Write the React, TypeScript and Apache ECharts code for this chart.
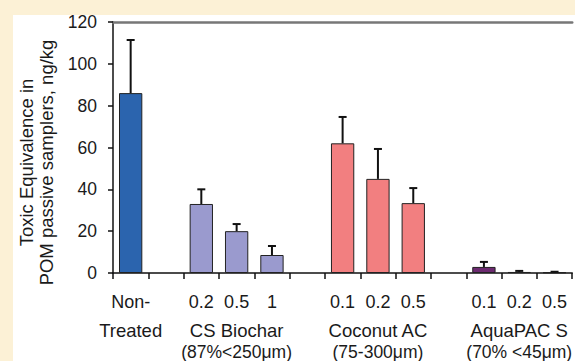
import React, { useEffect, useRef } from "react";
import * as echarts from "echarts";

// ---- data ----
const categories = ["nt", "g1", "cs02", "cs05", "cs1", "g2", "co01", "co02", "co05", "g3", "aq01", "aq02", "aq05"];
const tickLabels = ["Non-", "", "0.2", "0.5", "1", "", "0.1", "0.2", "0.5", "", "0.1", "0.2", "0.5"];
const groupNames = ["Treated", "", "", "CS Biochar", "", "", "", "Coconut AC", "", "", "", "AquaPAC S", ""];
const groupNotes = ["", "", "", "(87%<250μm)", "", "", "", "(75-300μm)", "", "", "", "(70% <45μm)", ""];
const groupOf = ["nt", "", "cs", "cs", "cs", "", "co", "co", "co", "", "aq", "aq", "aq"];
const means: (number | null)[] = [86, null, 33, 20, 8.6, null, 62, 45, 33.4, null, 2.9, 0.5, 0.3];
const errTop: (number | null)[] = [111.4, null, 40, 23.4, 12.9, null, 74.6, 59.3, 40.6, null, 5.3, 1.0, 0.6];
const yTicks = { min: 0, max: 120, interval: 20 };

// ---- styles ----
const groupColors: Record<string, string> = {
  nt: "#2b64ae",
  cs: "#9a9ace",
  co: "#f27f80",
  aq: "#6c2a70",
};
const FONT = "Liberation Sans, Arial, sans-serif";

export default function App() {
  const ref = useRef<HTMLDivElement>(null);
  useEffect(() => {
    document.body.style.margin = "0";
    const chart = echarts.init(ref.current!, null, { renderer: "svg" });
    const barData = means.map((v, i) =>
      v == null ? "-" : { value: v, itemStyle: { color: groupColors[groupOf[i]] } }
    );
    const errData: number[][] = [];
    errTop.forEach((v, i) => {
      if (v != null && means[i] != null) errData.push([i, means[i] as number, v]);
    });
    chart.setOption({
      animation: false,
      backgroundColor: "#fcf1d6",
      textStyle: { fontFamily: FONT },
      graphic: {
        elements: [
          {
            type: "rect",
            z: -100,
            left: 13,
            top: 15,
            shape: { width: 600, height: 400 },
            style: { fill: "#ffffff" },
          },
        ],
      },
      grid: { left: 113, right: -3, top: 22, bottom: 88, containLabel: false },
      xAxis: [
        {
          type: "category",
          data: categories,
          position: "bottom",
          axisLine: { lineStyle: { color: "#111", width: 1.5 } },
          axisTick: { show: true, length: 6, lineStyle: { color: "#111", width: 1.5 } },
          axisLabel: {
            interval: 0,
            margin: 14,
            color: "#1a1a1a",
            fontFamily: FONT,
            formatter: (_v: string, i: number) => {
              if (!tickLabels[i] && !groupNames[i]) return "";
              let s = `{a|${tickLabels[i]}}`;
              if (groupNames[i]) s += `\n{b|${groupNames[i]}}`;
              if (groupNotes[i]) s += `\n{c|${groupNotes[i]}}`;
              return s;
            },
            rich: {
              a: { fontSize: 18, lineHeight: 29, fontFamily: FONT, color: "#1a1a1a" },
              b: { fontSize: 18.5, lineHeight: 29, fontFamily: FONT, color: "#1a1a1a" },
              c: { fontSize: 17.5, lineHeight: 14, fontFamily: FONT, color: "#1a1a1a" },
            },
          },
        },
        {
          type: "category",
          data: categories,
          position: "top",
          axisLine: { lineStyle: { color: "#777", width: 2.5 } },
          axisTick: { show: false },
          axisLabel: { show: false },
        },
      ],
      yAxis: {
        type: "value",
        min: yTicks.min,
        max: yTicks.max,
        interval: yTicks.interval,
        name: "Toxic Equivalence in\nPOM passive samplers, ng/kg",
        nameLocation: "middle",
        nameRotate: 90,
        nameGap: 55,
        nameTextStyle: {
          fontSize: 18.5,
          lineHeight: 20,
          color: "#1a1a1a",
          fontFamily: FONT,
          padding: [0, 30, 0, 0],
        },
        splitLine: { show: false },
        axisLine: { show: true, lineStyle: { color: "#111", width: 1.5 } },
        axisTick: { show: true, length: 5, lineStyle: { color: "#111", width: 1.5 } },
        axisLabel: { fontSize: 17.5, margin: 16, color: "#1a1a1a", fontFamily: FONT },
      },
      series: [
        {
          type: "bar",
          data: barData,
          barWidth: "66%",
          itemStyle: { borderColor: "#222", borderWidth: 1 },
          z: 2,
        },
        {
          type: "custom",
          data: errData,
          encode: { x: 0, y: [1, 2] },
          z: 3,
          renderItem: (_p: any, api: any) => {
            const top = api.coord([api.value(0), api.value(2)]);
            const base = api.coord([api.value(0), api.value(1)]);
            return {
              type: "group",
              children: [
                {
                  type: "line",
                  shape: { x1: top[0], y1: base[1], x2: top[0], y2: top[1] },
                  style: { stroke: "#111", lineWidth: 2 },
                },
                {
                  type: "line",
                  shape: { x1: top[0] - 4, y1: top[1], x2: top[0] + 4, y2: top[1] },
                  style: { stroke: "#111", lineWidth: 2 },
                },
              ],
            };
          },
        },
      ],
    });
    return () => chart.dispose();
  }, []);
  return <div ref={ref} style={{ width: 575, height: 361 }} />;
}
